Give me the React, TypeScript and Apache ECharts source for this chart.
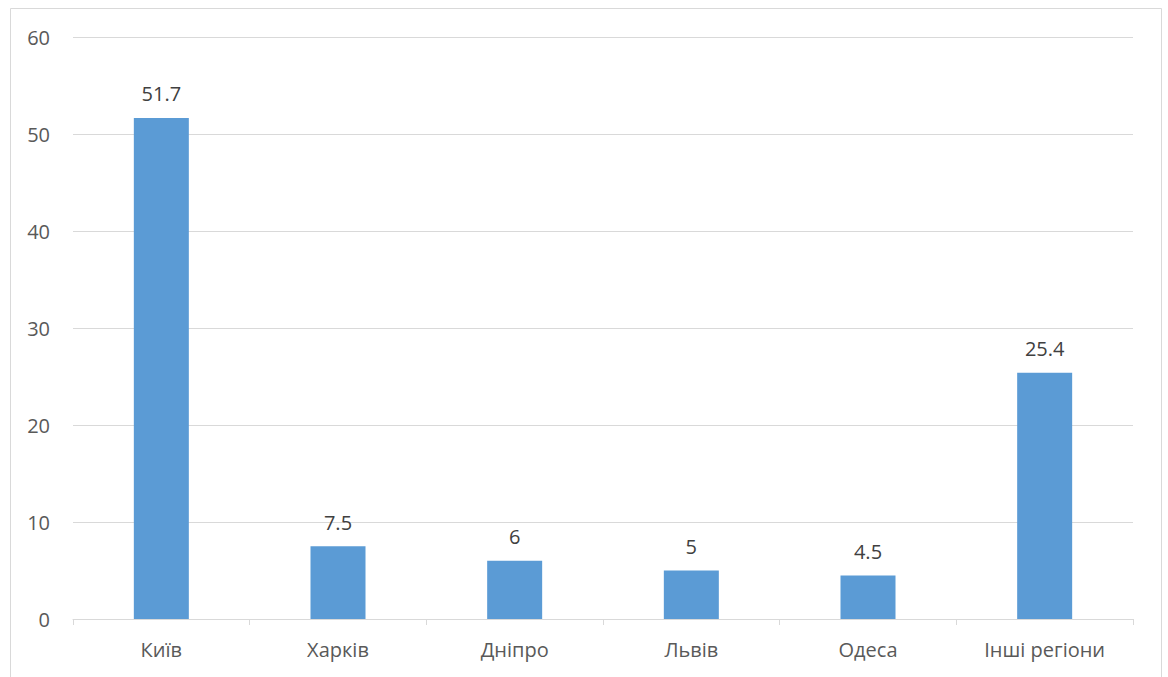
import React, { useEffect, useRef } from "react";
import * as echarts from "echarts";

const categories = ["Київ", "Харків", "Дніпро", "Львів", "Одеса", "Інші регіони"];
const values = [51.7, 7.5, 6, 5, 4.5, 25.4];

export default function App() {
  const ref = useRef<HTMLDivElement>(null);
  useEffect(() => {
    if (!ref.current) return;
    const chart = echarts.init(ref.current, null, { renderer: "svg" });
    const font = "'Open Sans', sans-serif";
    chart.setOption({
      animation: false,
      backgroundColor: "#ffffff",
      graphic: [
        {
          type: "rect",
          shape: { x: 10.5, y: 8.5, width: 1151, height: 700 },
          style: { fill: "none", stroke: "#d9d9d9", lineWidth: 1 },
          silent: true,
        },
      ],
      grid: { left: 73, right: 35, top: 37.5, bottom: 58 },
      xAxis: {
        type: "category",
        data: categories,
        axisLine: { show: true, lineStyle: { color: "#d9d9d9", width: 1 } },
        axisTick: { show: true, length: 6, lineStyle: { color: "#d9d9d9" } },
        axisLabel: { color: "#595959", fontSize: 20, fontFamily: font, margin: 20 },
      },
      yAxis: {
        type: "value",
        min: 0,
        max: 60,
        interval: 10,
        axisLine: { show: false },
        axisTick: { show: false },
        splitLine: { lineStyle: { color: "#d9d9d9", width: 1 } },
        axisLabel: { color: "#595959", fontSize: 20, fontFamily: font, margin: 23 },
      },
      series: [
        {
          type: "bar",
          data: values,
          barWidth: 55,
          itemStyle: { color: "#5B9BD5" },
          label: {
            show: true,
            position: "top",
            distance: 14,
            color: "#404040",
            fontSize: 20,
            fontFamily: font,
          },
        },
      ],
    });
    return () => chart.dispose();
  }, []);
  return (
    <div
      ref={ref}
      style={{ position: "absolute", left: 0, top: 0, width: 1168, height: 677 }}
    />
  );
}
